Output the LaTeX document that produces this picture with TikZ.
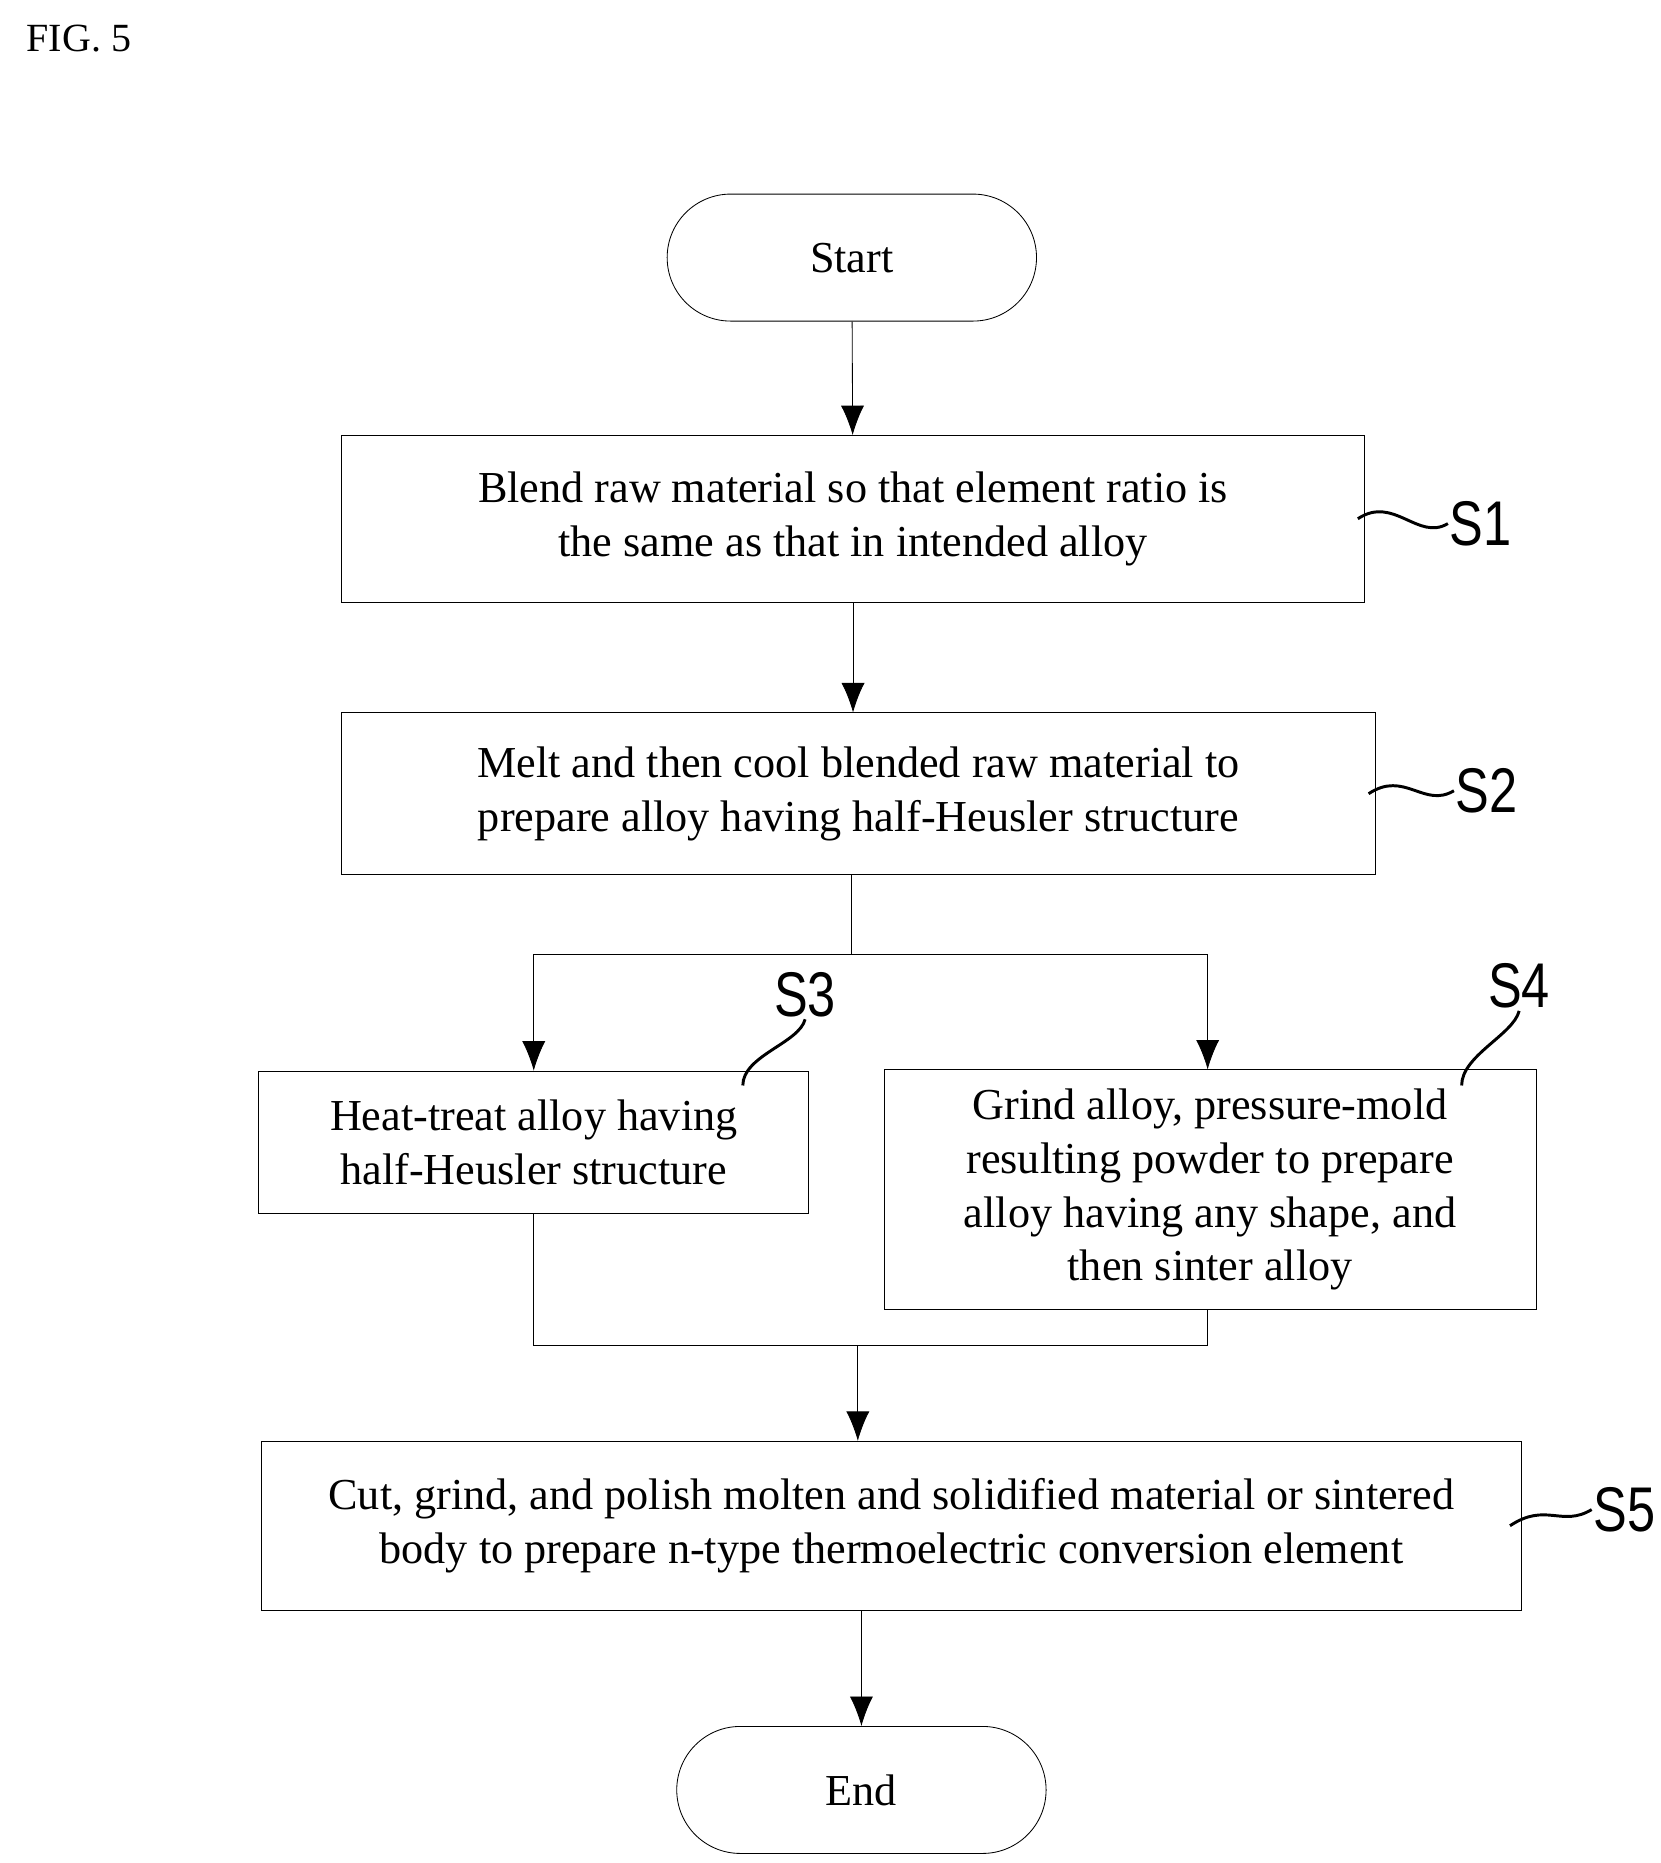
\documentclass[tikz,border=0pt]{standalone}
\usepackage{fontspec}
\setmainfont{Liberation Serif}
\newfontfamily\labelfont{Liberation Sans}
\usetikzlibrary{arrows.meta,positioning,shapes.misc}
\tikzset{
    -{Latex[length=14pt,width=11pt]},line width=1.6pt,
    proc/.style={draw, rectangle, align=center, inner sep=0pt,
      font=\fontsize{21}{25.5}\selectfont},
    term/.style={draw, rounded rectangle, minimum width=320*0.02cm,
      minimum height=106*0.02cm, font=\fontsize{21}{25.5}\selectfont},
    lbl/.style={font=\labelfont\fontsize{30}{30}\selectfont, inner sep=1pt, xscale=0.8},
    squig/.style={-, line width=1.4pt}
}
\begin{document}
\begin{tikzpicture}[x=0.02cm,y=-0.02cm]
    \useasboundingbox (0,0) rectangle (1386,1555);

    \node[anchor=west,font=\fontsize{19}{19}\selectfont] (fig) at (16,32) {FIG. 5};

    \node[term] (start) at (711,215) {Start};

    % process steps
    \node[proc, minimum width=854*0.02cm, minimum height=139*0.02cm] (s1) at (712,433)
        {Blend raw material so that element ratio is\\the same as that in intended alloy};
    \node[proc, minimum width=863*0.02cm, minimum height=135*0.02cm] (s2) at (716.5,662.5)
        {Melt and then cool blended raw material to\\prepare alloy having half-Heusler structure};
    \node[proc, minimum width=459*0.02cm, minimum height=119*0.02cm] (s3) at (445.5,953.5)
        {Heat-treat alloy having\\half-Heusler structure};
    \node[proc, minimum width=544*0.02cm, minimum height=200*0.02cm] (s4) at (1010,993)
        {Grind alloy, pressure-mold\\resulting powder to prepare\\alloy having any shape, and\\then sinter alloy};
    \node[proc, minimum width=1052*0.02cm, minimum height=141*0.02cm] (s5) at (744,1273.5)
        {Cut, grind, and polish molten and solidified material or sintered\\body to prepare n-type thermoelectric conversion element};

    \node[term] (end) at (719,1494) {End};

    % step labels
    \node[lbl] (l1) at (1236,437) {S1};
    \node[lbl] (l2) at (1241,660) {S2};
    \node[lbl] (l3) at (672,830) {S3};
    \node[lbl] (l4) at (1268,823) {S4};
    \node[lbl] (l5) at (1356,1260) {S5};

    \draw[squig] ([xshift=-6*0.02cm]s1.east) .. controls +(30,-20) and +(-25,15) .. (l1.west);
    \draw[squig] ([xshift=-6*0.02cm]s2.east) .. controls +(30,-20) and +(-25,15) .. (l2.west);
    \draw[squig] (620,906) .. controls +(0,-25) and +(-5,20) .. (l3.south);
    \draw[squig] (1220,906) .. controls +(0,-25) and +(-5,20) .. (l4.south);
    \draw[squig] ([xshift=-10*0.02cm]s5.east) .. controls +(30,-20) and +(-25,15) .. (l5.west);

    % connectors
    \coordinate (split) at (711,797);
    \coordinate (join) at (716,1123);
    \draw (start) -- (s1);
    \draw (s1) -- (s2.north -| s1);
    \draw[-] (s2.south -| split) -- (split);
    \draw (split) -| (s3.north);
    \draw (split) -| (s4.north -| 1008,0);
    \draw[-] (s3.south) |- (join);
    \draw[-] (s4.south -| 1008,0) |- (join);
    \draw (join) -- (s5.north -| join);
    \draw (s5.south -| end) -- (end);
\end{tikzpicture}
\end{document}
